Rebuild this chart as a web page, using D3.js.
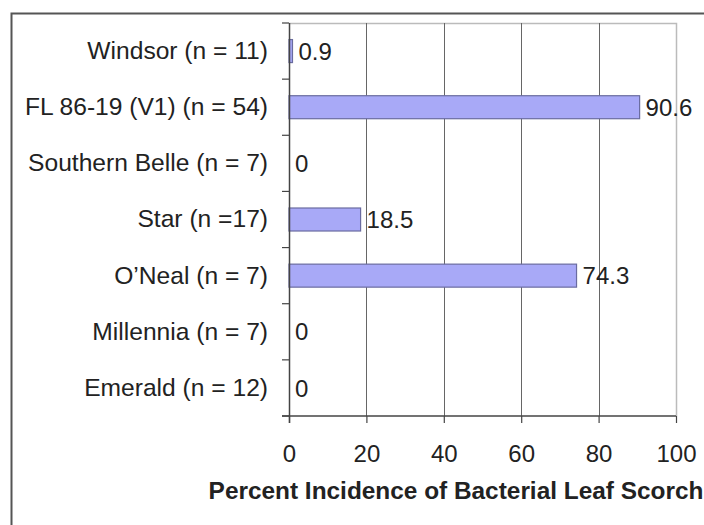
<!DOCTYPE html>
<html>
<head>
  <meta charset="UTF-8">
  <title>bacterial leaf scorch</title>
  <style>
  body{
    margin: 0;
    background: #fff;
  }
  text{
    font-family: "Liberation Sans", Arial, sans-serif;
    fill: #222;
  }
  </style>
</head>
<body>
  <script src="https://cdn.jsdelivr.net/npm/d3@7"></script>
  <script type="text/javascript">
  var categories = ['Windsor (n = 11)', 'FL 86-19 (V1) (n = 54)', 'Southern Belle (n = 7)',
    'Star (n =17)', 'O\u2019Neal (n = 7)', 'Millennia (n = 7)', 'Emerald (n = 12)'];
  var values = [0.9, 90.6, 0, 18.5, 74.3, 0, 0];
  var xTicks = [0, 20, 40, 60, 80, 100];
  var xTitle = 'Percent Incidence of Bacterial Leaf Scorch';

  var width = 704, height = 525;
  var pLeft = 289, pRight = 676, pTop = 23, pBottom = 416;

  var svg = d3.select('body').append('svg')
    .attr('width', width)
    .attr('height', height);

  // outer frame (only top and left edges visible)
  svg.append('path')
    .attr('d', 'M11.5,' + height + 'V13.5H' + width)
    .attr('fill', 'none')
    .attr('stroke', '#555')
    .attr('stroke-width', 2);

  var x = d3.scaleLinear().domain([0, 100]).range([pLeft, pRight]);
  var y = d3.scaleBand().domain(categories).range([pTop, pBottom]);

  // plot border top/right
  svg.append('path')
    .attr('d', 'M' + pLeft + ',' + (pTop + 0.5) + 'H' + (pRight + 0.5) + 'V' + pBottom)
    .attr('fill', 'none')
    .attr('stroke', '#bbb')
    .attr('stroke-width', 1.5);

  // gridlines
  svg.selectAll('.grid')
    .data(xTicks.slice(1, -1))
    .enter()
    .append('line')
    .attr('x1', function(d){ return Math.round(x(d)) + 0.5; })
    .attr('x2', function(d){ return Math.round(x(d)) + 0.5; })
    .attr('y1', pTop)
    .attr('y2', pBottom)
    .attr('stroke', '#666')
    .attr('stroke-width', 1);

  // bars
  var bh = 23;
  svg.selectAll('.bar')
    .data(values)
    .enter()
    .append('rect')
    .attr('x', x(0))
    .attr('y', function(d, i){ return y(categories[i]) + y.bandwidth() / 2 - bh / 2; })
    .attr('width', function(d){ return x(d) - x(0); })
    .attr('height', bh)
    .attr('fill', d3.rgb(168, 169, 247))
    .attr('stroke', d3.rgb(106, 108, 160))
    .attr('stroke-width', function(d){ return d > 0 ? 1.2 : 0; });

  // value labels
  svg.selectAll('.val')
    .data(values)
    .enter()
    .append('text')
    .attr('x', function(d){ return x(d) + 6; })
    .attr('y', function(d, i){ return y(categories[i]) + y.bandwidth() / 2; })
    .attr('dy', '0.36em')
    .attr('font-size', 24)
    .text(function(d){ return d; });

  // x axis
  var xAxis = d3.axisBottom(x).tickValues(xTicks).tickSize(7).tickPadding(22);
  var gx = svg.append('g')
    .attr('transform', 'translate(0,' + pBottom + ')')
    .call(xAxis);
  gx.select('.domain').remove();
  gx.append('line')
    .attr('x1', pLeft - 7).attr('x2', pRight)
    .attr('stroke', '#444').attr('stroke-width', 1.5);
  gx.selectAll('.tick line').attr('stroke', '#444').attr('stroke-width', 1.2);
  gx.selectAll('.tick text')
    .attr('font-size', 24)
    .attr('font-family', '"Liberation Sans", Arial, sans-serif')
    .attr('fill', '#222');

  // y axis
  var yAxis = d3.axisLeft(y).tickSize(0).tickPadding(21);
  var gy = svg.append('g')
    .attr('transform', 'translate(' + pLeft + ',0)')
    .call(yAxis);
  gy.select('.domain').remove();
  gy.append('line')
    .attr('x1', 0.5).attr('x2', 0.5)
    .attr('y1', pTop).attr('y2', pBottom + 7)
    .attr('stroke', '#444').attr('stroke-width', 1.5);
  gy.selectAll('.ytick')
    .data(d3.range(categories.length + 1))
    .enter()
    .append('line')
    .attr('class', 'ytick')
    .attr('x1', -7).attr('x2', 0)
    .attr('y1', function(i){ return pTop + i * y.step(); })
    .attr('y2', function(i){ return pTop + i * y.step(); })
    .attr('stroke', '#444').attr('stroke-width', 1.2);
  gy.selectAll('.tick text')
    .attr('font-size', 24.6)
    .attr('font-family', '"Liberation Sans", Arial, sans-serif')
    .attr('fill', '#222');

  // axis title
  svg.append('text')
    .attr('x', 456)
    .attr('y', 499)
    .attr('text-anchor', 'middle')
    .attr('font-size', 24.4)
    .attr('font-weight', 'bold')
    .text(xTitle);
  </script>
</body>
</html>
